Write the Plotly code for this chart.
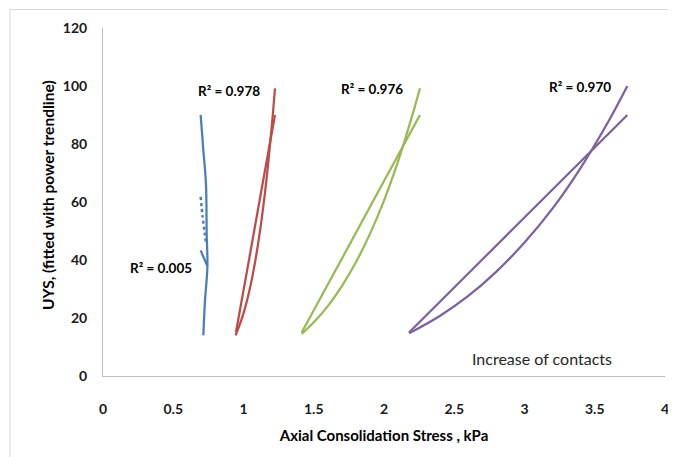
import plotly.graph_objects as go

# ---- data ----
blue_x = [0.714, 0.726, 0.743, 0.738, 0.733, 0.714, 0.695]
blue_y = [14, 26, 37.7, 49, 66, 78, 90]
blue_seg_x = [0.695, 0.742]
blue_seg_y = [43.3, 38.0]
blue_trend_x = [0.695, 0.709, 0.724, 0.733]
blue_trend_y = [61.8, 54.9, 49.2, 45.7]

red_x = [0.946, 1.039, 1.131, 1.224]
red_y = [15, 40, 65, 90]
red_trend_x = [0.944, 1.0, 1.05, 1.1, 1.15, 1.2, 1.224]
red_trend_y = [14, 21.6, 31.2, 44.4, 62.0, 85.5, 99.2]

green_x = [1.414, 1.695, 1.975, 2.256]
green_y = [15, 40, 65, 90]
green_trend_x = [1.414, 1.5, 1.6, 1.7, 1.8, 1.9, 2.0, 2.1, 2.2, 2.256]
green_trend_y = [14.5, 18.5, 24.1, 31.0, 39.2, 49.0, 60.5, 74.0, 89.6, 99.2]

purple_x = [2.178, 2.696, 3.214, 3.732]
purple_y = [15, 40, 65, 90]
purple_trend_x = [2.178, 2.4, 2.6, 2.8, 3.0, 3.2, 3.4, 3.6, 3.732]
purple_trend_y = [14.7, 20.8, 27.6, 36.0, 46.0, 57.8, 71.8, 88.0, 100]

r2_labels = ["R² = 0.005", "R² = 0.978", "R² = 0.976", "R² = 0.970"]
r2_x = [0.413, 0.897, 1.915, 3.395]
r2_y = [37.2, 98.3, 99.0, 99.7]

x_ticks = [0, 0.5, 1, 1.5, 2, 2.5, 3, 3.5, 4]
y_ticks = [0, 20, 40, 60, 80, 100, 120]

BLUE = "#4A7EBB"
RED = "#BE4B48"
GREEN = "#98B954"
PURPLE = "#7D60A0"
FONT = "Lato"

fig = go.Figure()

def line(x, y, color, dash="solid", width=2.25, shape="spline"):
    fig.add_trace(go.Scatter(x=x, y=y, mode="lines",
                             line=dict(color=color, width=width, dash=dash, shape=shape, smoothing=1.0),
                             showlegend=False, hoverinfo="skip"))

line(blue_x, blue_y, BLUE)
line(blue_seg_x, blue_seg_y, BLUE, shape="linear")
line(blue_trend_x, blue_trend_y, BLUE, dash="dot", width=2.5)
line(red_x, red_y, RED)
line(red_trend_x, red_trend_y, RED)
line(green_x, green_y, GREEN)
line(green_trend_x, green_trend_y, GREEN)
line(purple_x, purple_y, PURPLE)
line(purple_trend_x, purple_trend_y, PURPLE)

for t, x, y in zip(r2_labels, r2_x, r2_y):
    fig.add_annotation(x=x, y=y, text="<b>" + t + "</b>", showarrow=False,
                       font=dict(family=FONT, size=13.5, color="#000000"))

fig.add_annotation(x=3.125, y=5.9, text="Increase of contacts", showarrow=False,
                   font=dict(family=FONT, size=16, color="#262626"))

# y-axis title placed as rotated text
fig.add_annotation(xref="paper", yref="paper", x=-0.098, y=0.52,
                   xanchor="center", yanchor="middle",
                   text="<b>UYS, (fitted with power trendline)</b>", textangle=-90,
                   showarrow=False, font=dict(family=FONT, size=15.5, color="#000000"))

# outer chart border (left and top visible)
fig.add_shape(type="line", xref="paper", yref="paper",
              x0=-0.1655, x1=-0.1655, y0=1.0532, y1=-0.25,
              line=dict(color="#D9D9D9", width=1))
fig.add_shape(type="line", xref="paper", yref="paper",
              x0=-0.1655, x1=1.03, y0=1.0532, y1=1.0532,
              line=dict(color="#D9D9D9", width=1))

fig.update_layout(
    width=668, height=449,
    margin=dict(l=95, r=11, t=20, b=81, autoexpand=False),
    paper_bgcolor="white", plot_bgcolor="white",
    font=dict(family=FONT, color="#000000"),
    xaxis=dict(range=[0, 4], tickvals=x_ticks, ticktext=[str(v) for v in x_ticks],
               showgrid=False, zeroline=False, showline=True, linecolor="#BFBFBF", linewidth=1,
               ticks="", ticklabelstandoff=20, automargin=False,
               tickfont=dict(family=FONT, size=14, color="#1a1a1a", weight="bold"),
               title=dict(text="<b>Axial Consolidation Stress , kPa</b>", standoff=14,
                          font=dict(family=FONT, size=15, color="#000000"))),
    yaxis=dict(range=[0, 120], tickvals=y_ticks,
               showgrid=False, zeroline=False, showline=True, linecolor="#BFBFBF", linewidth=1,
               ticks="", ticklabelstandoff=12, automargin=False,
               tickfont=dict(family=FONT, size=14, color="#1a1a1a", weight="bold")),
)

fig.write_html("out.html")
